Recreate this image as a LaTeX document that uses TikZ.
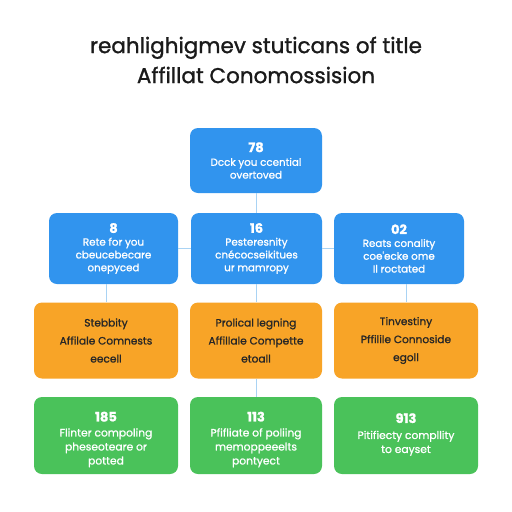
\documentclass[tikz,border=0pt]{standalone}
\usepackage{fontspec}
\setmainfont{Poppins}
\newfontfamily\medfont[FakeBold=1.2]{Poppins}
\definecolor{bblue}{HTML}{3194EE}
\definecolor{borange}{HTML}{F8A427}
\definecolor{bgreen}{HTML}{4AC25A}
\definecolor{lineblue}{HTML}{A9D3F4}
\definecolor{titlegray}{HTML}{1A1A1A}
\tikzset{
  box/.style={rectangle, rounded corners=8pt, align=center, inner sep=0pt},
  bluebox/.style={box, fill=bblue, text=white, font=\medfont\fontsize{10.3}{12.8}\selectfont},
  orangebox/.style={box, fill=borange, text=black!85, font=\medfont\fontsize{10.6}{18}\selectfont},
  greenbox/.style={box, fill=bgreen},
  greentext/.style={align=center, inner sep=0pt, text=white, font=\medfont\fontsize{10.7}{14}\selectfont},
  conn/.style={draw=lineblue, line width=0.8pt},
}
\newcommand{\numtxt}[1]{{\fontsize{13}{14}\selectfont\bfseries #1}}
\begin{document}
\begin{tikzpicture}[x=1pt,y=-1pt]
\useasboundingbox[fill=white] (0,0) rectangle (512,512);
\node[font=\medfont\fontsize{21.5}{30}\selectfont, text=titlegray, align=center] (title) at (256,60)
  {reahlighigmev stuticans of title\\Affillat Conomossision};

\node[bluebox, minimum width=132pt, minimum height=65pt] (top) at (256,160.5)
  {\numtxt{78}\\[1pt]Dcck you ccential\\overtoved};

\node[bluebox, minimum width=129pt, minimum height=71pt] (bl) at (113.5,248.5)
  {\numtxt{8}\\[0pt]Rete for you\\cbeucebecare\\onepyced};
\node[bluebox, minimum width=131pt, minimum height=71pt] (bm) at (256.5,248.5)
  {\numtxt{16}\\[0pt]Pesteresnity\\cnécocseikitues\\ur mamropy};
\node[bluebox, minimum width=130pt, minimum height=71pt] (br) at (399,248.5)
  {\numtxt{02}\\[0pt]Reats conality\\coe'ecke ome\\Il roctated};

\node[orangebox, minimum width=144pt, minimum height=76pt] (ol) at (106,340.5)
  {Stebbity\\Affilale Comnests\\eecell};
\node[orangebox, minimum width=132pt, minimum height=76pt] (om) at (256,340.5)
  {Prolical legning\\Affillale Compette\\etoall};
\node[orangebox, minimum width=144pt, minimum height=76pt] (or) at (406,340.5)
  {Tinvestiny\\Pffilile Connoside\\egoll};

\node[greenbox, minimum width=144pt, minimum height=77pt] (gl) at (106,435.5) {};
\node[greenbox, minimum width=132pt, minimum height=77pt] (gm) at (256,435.5) {};
\node[greenbox, minimum width=144pt, minimum height=77pt] (gr) at (406,435.5) {};
\node[greentext] (gltext) at ([yshift=-4pt]gl.center)
  {\numtxt{185}\\[1pt]Flinter compoling\\pheseoteare or\\potted};
\node[greentext] (gmtext) at ([yshift=-4pt]gm.center)
  {\numtxt{113}\\[1pt]Pfifliate of poliing\\memoppeeelts\\pontyect};
\node[greentext] (grtext) at ([yshift=1pt]gr.center)
  {\numtxt{913}\\[2pt]Pitifiecty compllity\\to eayset};

\draw[conn] (top.south) -- (top.south |- bm.north);
\draw[conn] (bl.east) -- (bm.west);
\draw[conn] (bm.east) -- (br.west);
\draw[conn] (ol.north |- bl.south) -- (ol.north);
\draw[conn] (bm.south) -- (bm.south -| om.north) -- (om.north);
\draw[conn] (or.north |- br.south) -- (or.north);
\draw[conn] (om.south) -- (gm.north);
\end{tikzpicture}
\end{document}
